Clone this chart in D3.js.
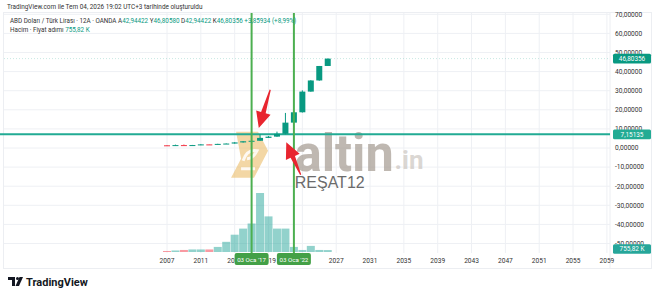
<!DOCTYPE html>
<html><head><meta charset="utf-8">
<script src="https://cdn.jsdelivr.net/npm/d3@7"></script>
<style>body{margin:0;background:#fff}svg{display:block;font-family:Roboto,"Liberation Sans",sans-serif}</style>
</head><body><svg id="c" width="654" height="296"></svg>
<script>
const years   = [2007,2008,2009,2010,2011,2012,2013,2014,2015,2016,2017,2018,2019,2020,2021,2022,2023,2024,2025,2026];
const opens   = [1.42,1.17,1.52,1.50,1.54,1.89,1.78,2.15,2.33,2.92,3.52,3.78,5.29,5.95,7.43,13.28,18.70,29.53,35.36,42.94422];
const highs   = [1.47,1.76,1.82,1.61,1.96,1.89,2.21,2.39,3.07,3.59,3.95,7.24,6.25,8.58,18.36,18.78,30.19,35.50,42.95,46.80580];
const lows    = [1.16,1.15,1.39,1.38,1.49,1.74,1.75,2.07,2.27,2.82,3.40,3.71,5.22,5.85,7.16,13.25,18.57,29.47,35.20,42.94422];
const closes  = [1.17,1.52,1.50,1.54,1.89,1.78,2.15,2.33,2.92,3.52,3.78,5.29,5.95,7.43,13.28,18.70,29.53,35.36,42.94,46.80356];
const volumes = [0.4,0.6,0.8,1.0,1.0,1.0,2.0,4.0,6.8,9.2,11.2,23.2,14.0,9.2,9.2,2.0,0.8,2.4,0.8,0.75582]; // millions
const priceTicks = [70,60,50,40,30,20,10,0,-10,-20,-30,-40,-50];
const yearTicks  = [2007,2011,2015,2019,2023,2027,2031,2035,2039,2043,2047,2051,2055,2059];
const markerYears = [2017,2022];
const markerLabels = ["03 Oca '17","03 Oca '22"];
const levelPrice = 7.15135;
const lastPrice = 46.80356;

const UP="#089981", DOWN="#f23645";
const svg=d3.select("#c");
const x=d3.scaleLinear().domain([2007,2059]).range([167,606.9]);
const y=d3.scaleLinear().domain([-50,70]).range([243.5,14.3]);
const yv=d3.scaleLinear().domain([0,23.2]).range([252,193]);
const plotR=610, plotT=13, plotB=253;
const fmt=v=>d3.format(".5f")(v).replace(".",",").replace("−","-");

// frame
svg.append("rect").attr("x",3.5).attr("y",12.5).attr("width",648).attr("height",256).attr("fill","none").attr("stroke","#eceef2");

// grid
const g=svg.append("g");
g.selectAll(".hg").data(priceTicks).join("line").attr("x1",4).attr("x2",plotR).attr("y1",d=>y(d)).attr("y2",d=>y(d)).attr("stroke","#eef0f4");
g.selectAll(".vg").data(yearTicks).join("line").attr("x1",d=>x(d)).attr("x2",d=>x(d)).attr("y1",plotT).attr("y2",plotB).attr("stroke","#eef0f4");
svg.append("line").attr("x1",plotR).attr("x2",plotR).attr("y1",plotT).attr("y2",268).attr("stroke","#eceef2");

// watermark
const wm=svg.append("g");
const lx=x(2016.7), ly=y(-3.5);
wm.append("path").attr("transform",`translate(${lx},${ly})`)
  .attr("d","M-13,-23 L9,-23 L19,-4 L5,23 L-18,23 L-8,4 Z").attr("fill","rgba(235,188,105,0.6)");
wm.append("path").attr("transform",`translate(${lx},${ly})`)
  .attr("d","M-6,6 Q-2,-6 8,-4 Q4,4 -2,4 M-8,14 L6,14").attr("fill","none").attr("stroke","rgba(255,255,255,0.85)").attr("stroke-width",3);
wm.append("text").attr("x",x(2022.1)).attr("y",y(-11.8)).attr("font-size",52).attr("font-weight","bold")
  .attr("textLength",99).attr("lengthAdjust","spacingAndGlyphs").attr("fill","rgba(160,150,140,0.68)").text("altin");
wm.append("text").attr("x",x(2033.9)).attr("y",y(-10.8)).attr("font-size",26).attr("font-weight","bold")
  .attr("fill","rgba(195,188,182,0.6)").text(".in");

// volume
svg.selectAll(".vol").data(years).join("rect")
  .attr("x",(d)=>x(d)-4).attr("width",8)
  .attr("y",(d,i)=>yv(volumes[i])).attr("height",(d,i)=>yv(0)-yv(volumes[i]))
  .attr("fill",(d,i)=>closes[i]>=opens[i]?"rgba(38,166,154,0.5)":"rgba(242,54,69,0.5)");

// level line
svg.append("line").attr("x1",0).attr("x2",plotR).attr("y1",y(levelPrice)).attr("y2",y(levelPrice)).attr("stroke","#22ab94").attr("stroke-width",2);
svg.append("line").attr("x1",4).attr("x2",plotR).attr("y1",y(lastPrice)).attr("y2",y(lastPrice)).attr("stroke","rgba(8,153,129,0.22)").attr("stroke-dasharray","1,2");

// candles
const c=svg.append("g");
c.selectAll(".wick").data(years).join("line").attr("x1",d=>x(d)).attr("x2",d=>x(d))
  .attr("y1",(d,i)=>y(highs[i])).attr("y2",(d,i)=>y(lows[i]))
  .attr("stroke",(d,i)=>closes[i]>=opens[i]?UP:DOWN);
c.selectAll(".body").data(years).join("rect").attr("x",d=>x(d)-3).attr("width",6)
  .attr("y",(d,i)=>y(Math.max(opens[i],closes[i])))
  .attr("height",(d,i)=>Math.max(1,Math.abs(y(opens[i])-y(closes[i]))))
  .attr("fill",(d,i)=>closes[i]>=opens[i]?UP:DOWN);

// marker vertical lines
svg.selectAll(".mk").data(markerYears).join("line").attr("x1",d=>x(d)).attr("x2",d=>x(d))
  .attr("y1",plotT).attr("y2",plotB).attr("stroke","#4caf50").attr("stroke-width",2);

// arrows
function arrow(x1,y1,x2,y2){
  const dx=x2-x1, dy=y2-y1, L=Math.hypot(dx,dy), ux=dx/L, uy=dy/L, px=-uy, py=ux;
  const hl=16, hw=7.5, bx=x2-ux*hl, by=y2-uy*hl;
  const pts=[[x1+px*0.6,y1+py*0.6],[bx+px*2.4,by+py*2.4],[bx+px*hw,by+py*hw],[x2,y2],[bx-px*hw,by-py*hw],[bx-px*2.4,by-py*2.4],[x1-px*0.6,y1-py*0.6]];
  svg.append("polygon").attr("points",pts.map(p=>p.join(",")).join(" ")).attr("fill","#e8252f");
}
arrow(x(2019.2),y(30.5),x(2017.85),y(10.5));
arrow(x(2022.8),y(-14),x(2021.1),y(3));

// signature
svg.append("text").attr("x",x(2022.1)).attr("y",y(-21)).attr("font-size",16).attr("fill","#6b6b6b")
  .attr("font-family","'Liberation Sans',Arial,sans-serif").text("REŞAT12");

// price axis labels
svg.selectAll(".pl").data(priceTicks).join("text").attr("x",615).attr("y",d=>y(d)+2.3)
  .attr("font-size",6.6).attr("fill","#333").text(d=>fmt(d));
function tag(yy,txt,fill){
  svg.append("rect").attr("x",613).attr("y",yy-4.8).attr("width",38).attr("height",9.6).attr("rx",1.5).attr("fill",fill);
  svg.append("text").attr("x",632).attr("y",yy+2.3).attr("text-anchor","middle").attr("font-size",6.4).attr("fill","#fff").text(txt);
}
tag(y(lastPrice),fmt(lastPrice),UP);
tag(y(levelPrice),fmt(levelPrice),"#22ab94");
tag(yv(0)-3,"755,82 K","#26a69a");

// time axis labels
svg.selectAll(".tl").data(yearTicks).join("text").attr("x",d=>x(d)).attr("y",263)
  .attr("text-anchor","middle").attr("font-size",6.6).attr("fill","#333").text(d=>d);
markerYears.forEach((d,i)=>{
  svg.append("rect").attr("x",x(d)-17).attr("y",253).attr("width",34).attr("height",12).attr("rx",2).attr("fill","#43a047");
  svg.append("text").attr("x",x(d)).attr("y",261.5).attr("text-anchor","middle").attr("font-size",6.2).attr("fill","#fff").text(markerLabels[i]);
});

// header
svg.append("text").attr("x",7).attr("y",9).attr("font-size",6.4).attr("fill","#333")
  .text("TradingView.com ile Tem 04, 2026 19:02 UTC+3 tarihinde oluşturuldu");
const h=svg.append("text").attr("x",10).attr("y",23).attr("font-size",6.3).attr("fill","#333");
h.append("tspan").text("ABD Doları / Türk Lirası · 12A · OANDA  A");
h.append("tspan").attr("fill",UP).text(fmt(opens[19]));
h.append("tspan").text(" Y");
h.append("tspan").attr("fill",UP).text(fmt(highs[19]));
h.append("tspan").text(" D");
h.append("tspan").attr("fill",UP).text(fmt(lows[19]));
h.append("tspan").text(" K");
h.append("tspan").attr("fill",UP).text(fmt(closes[19])+" +"+fmt(closes[19]-opens[19])+" (+8,99%)");
const h2=svg.append("text").attr("x",10).attr("y",32).attr("font-size",6.3).attr("fill","#333");
h2.append("tspan").text("Hacim · Fiyat adımı  ");
h2.append("tspan").attr("fill",UP).text("755,82 K");

// TradingView logo
const lg=svg.append("g").attr("transform","translate(8,277)");
lg.append("path").attr("d","M0,0 H7 V9 H4 V3 H0 Z").attr("fill","#131722");
lg.append("circle").attr("cx",9.5).attr("cy",1.5).attr("r",1.5).attr("fill","#131722");
lg.append("path").attr("d","M11.5,0 H15 L11,9 H7.5 Z").attr("fill","#131722");
svg.append("text").attr("x",26).attr("y",286).attr("font-size",11).attr("font-weight","bold").attr("fill","#131722").text("TradingView");
</script></body></html>
